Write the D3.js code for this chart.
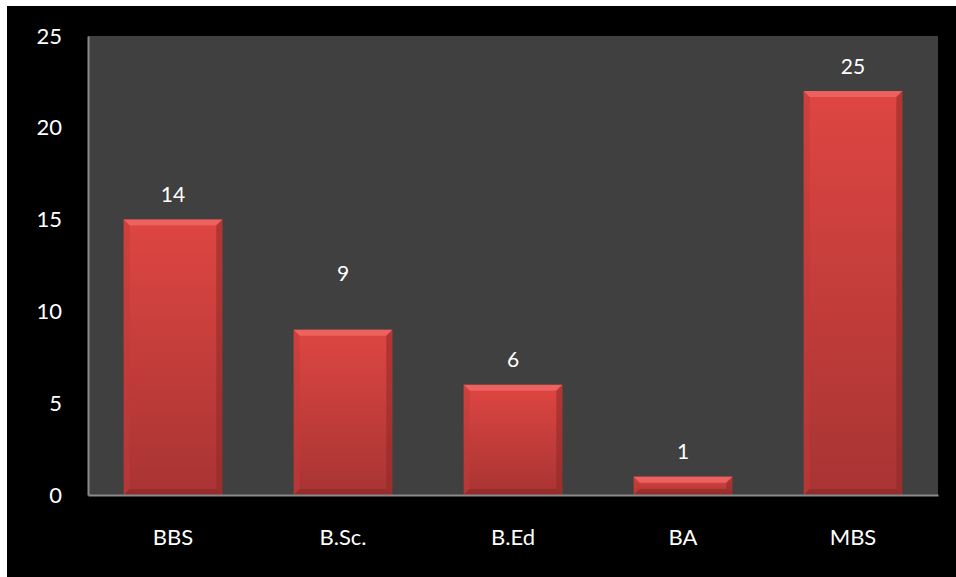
<!DOCTYPE html>
<html><head><meta charset="utf-8">
<script src="https://cdn.jsdelivr.net/npm/d3@7"></script>
<style>html,body{margin:0;padding:0;background:#fff;}svg{display:block;}</style>
</head><body>
<svg id="c" width="956" height="577"></svg>
<script>
const categories = ["BBS", "B.Sc.", "B.Ed", "BA", "MBS"];
const barValues = [15, 9, 6, 1, 22];
const labelTexts = ["14", "9", "6", "1", "25"];
const labelAnchors = [15, 10.7, 6, 1, 22];
const yTicks = [0, 5, 10, 15, 20, 25];

const svg = d3.select("#c");
const W = 956, H = 577;
const m = {left: 88, top: 36, right: 18, bottom: 82};
const font = "Lato, 'Open Sans', sans-serif";

svg.append("rect").attr("x", 7).attr("y", 6).attr("width", W - 7).attr("height", H - 6).attr("fill", "#000");

const x = d3.scaleBand().domain(categories).range([m.left, W - m.right]).paddingInner(0.42).paddingOuter(0.21);
const y = d3.scaleLinear().domain([0, 25]).range([H - m.bottom, m.top]);

svg.append("rect").attr("x", m.left).attr("y", m.top)
  .attr("width", W - m.right - m.left).attr("height", H - m.bottom - m.top).attr("fill", "#404040");

const defs = svg.append("defs");
const g1 = defs.append("linearGradient").attr("id", "barg").attr("x1", 0).attr("y1", 0).attr("x2", 0).attr("y2", 1);
g1.append("stop").attr("offset", "0%").attr("stop-color", "#de4642");
g1.append("stop").attr("offset", "100%").attr("stop-color", "#a83433");

const bars = svg.append("g").selectAll("g").data(categories).join("g");
bars.each(function(c, i) {
  const g = d3.select(this);
  const x0 = x(c), bw = x.bandwidth();
  const y0 = y(barValues[i]), y1 = y(0);
  const h = y1 - y0;
  const b = Math.min(6, h / 2);
  g.append("rect").attr("x", x0).attr("y", y0).attr("width", bw).attr("height", h).attr("fill", "url(#barg)");
  // top bevel
  g.append("path").attr("d", `M${x0},${y0}L${x0 + bw},${y0}L${x0 + bw - b},${y0 + b}L${x0 + b},${y0 + b}Z`).attr("fill", "#ee6562").attr("opacity", 0.9);
  // right bevel
  g.append("path").attr("d", `M${x0 + bw},${y0}L${x0 + bw},${y1}L${x0 + bw - b},${y1 - b}L${x0 + bw - b},${y0 + b}Z`).attr("fill", "#8e2927").attr("opacity", 0.55);
  // left bevel
  g.append("path").attr("d", `M${x0},${y0}L${x0 + b},${y0 + b}L${x0 + b},${y1 - b}L${x0},${y1}Z`).attr("fill", "#c23a37").attr("opacity", 0.5);
  // bottom bevel
  g.append("path").attr("d", `M${x0},${y1}L${x0 + b},${y1 - b}L${x0 + bw - b},${y1 - b}L${x0 + bw},${y1}Z`).attr("fill", "#7d2422").attr("opacity", 0.45);
});

// value labels
svg.append("g").selectAll("text").data(categories).join("text")
  .attr("x", c => x(c) + x.bandwidth() / 2)
  .attr("y", (c, i) => y(labelAnchors[i]) - 26)
  .attr("text-anchor", "middle").attr("dominant-baseline", "central")
  .attr("fill", "#fff").attr("font-family", font).attr("font-size", 21)
  .text((c, i) => labelTexts[i]);

// y axis
const ya = svg.append("g").attr("transform", `translate(${m.left},0)`)
  .call(d3.axisLeft(y).tickValues(yTicks).tickSize(0).tickPadding(26));
ya.select(".domain").attr("stroke", "#8a8a8a").attr("stroke-width", 2);
ya.selectAll("text").attr("fill", "#fff").attr("font-family", font).attr("font-size", 22);

// x axis
const xa = svg.append("g").attr("transform", `translate(0,${y(0)})`)
  .call(d3.axisBottom(x).tickSize(0).tickPadding(34));
xa.select(".domain").attr("stroke", "#8a8a8a").attr("stroke-width", 2);
xa.selectAll("text").attr("fill", "#fff").attr("font-family", font).attr("font-size", 22);
</script>
</body></html>
